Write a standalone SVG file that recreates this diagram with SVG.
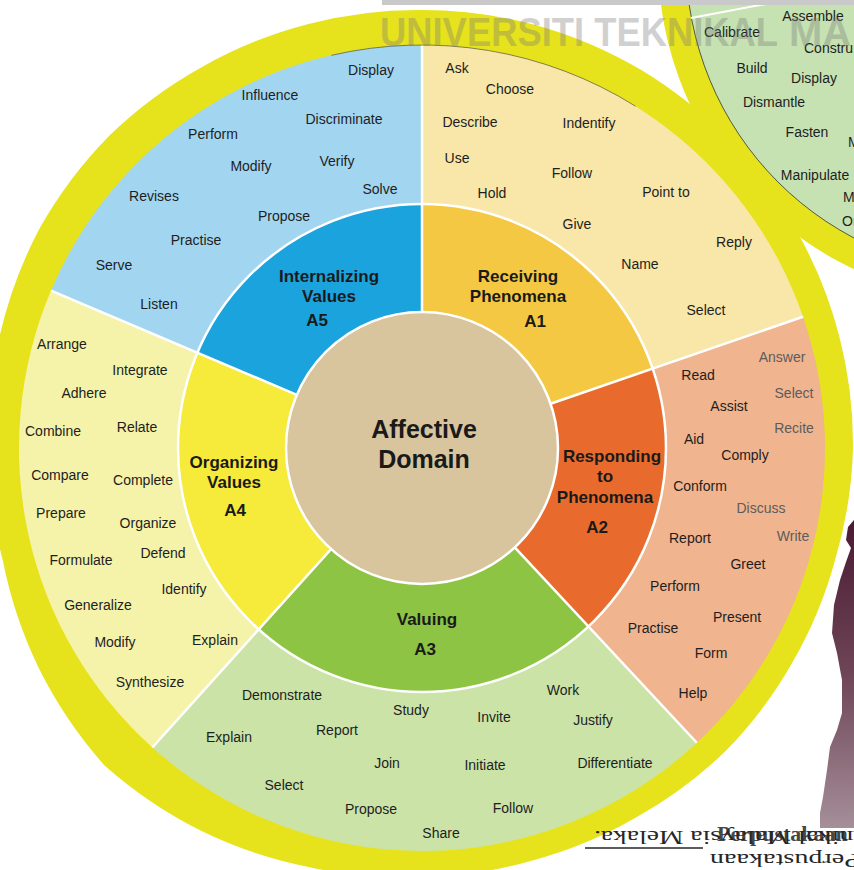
<svg xmlns="http://www.w3.org/2000/svg" width="854" height="870" viewBox="0 0 854 870">
<defs>
<style>
.w{font-family:"Liberation Sans",Arial,Helvetica,sans-serif;font-size:14px;fill:#1e1e1e;text-anchor:middle}
.g{fill:#5c5c5c}
.s{text-anchor:start}
.h{font-family:"Liberation Sans",Arial,Helvetica,sans-serif;font-size:17px;font-weight:bold;fill:#1a1a1a;text-anchor:middle}
.c{font-family:"Liberation Sans",Arial,Helvetica,sans-serif;font-size:25px;font-weight:bold;fill:#1a1a1a;text-anchor:middle}
.sep{stroke:#ffffff;stroke-width:2.5;fill:none}
</style>
<linearGradient id="tower" x1="0" y1="0" x2="0" y2="1">
<stop offset="0" stop-color="#4a1a33"/>
<stop offset="0.5" stop-color="#6e4556"/>
<stop offset="1" stop-color="#a58f99"/>
</linearGradient>
</defs>
<rect x="0" y="0" width="854" height="870" fill="#ffffff"/>

<g id="second-circle">
<circle cx="1000" cy="-40" r="342" fill="#e6e31c"/>
<circle cx="1000" cy="-40" r="314" fill="#c6e2b2" stroke="#4f5b3c" stroke-width="1"/>
<line x1="771" y1="3" x2="691" y2="18" stroke="#ffffff" stroke-width="2"/>
<text class="w" x="813" y="21">Assemble</text>
<text class="w" x="732" y="37">Calibrate</text>
<text class="w s" x="804" y="53">Constru</text>
<text class="w" x="752" y="73">Build</text>
<text class="w" x="814" y="83">Display</text>
<text class="w" x="774" y="107">Dismantle</text>
<text class="w" x="807" y="137">Fasten</text>
<text class="w s" x="848" y="147">M</text>
<text class="w" x="815" y="180">Manipulate</text>
<text class="w s" x="843" y="202">M</text>
<text class="w s" x="842" y="226">Or</text>
</g>

<g id="ring">
<path fill="#e6e31c" d="M422,10 A438,438 0 0 1 535.36,24.92 A437.5,437.5 0 0 1 640.5,69.55 A436,436 0 0 1 729.59,140.41 A434,434 0 0 1 796.99,231.5 A432.5,432.5 0 0 1 839.28,336.19 A431.5,431.5 0 0 1 853,448 A429.5,429.5 0 0 1 835.42,558.78 A428,428 0 0 1 792.66,662 A428.5,428.5 0 0 1 725.35,751.35 A428,428 0 0 1 635.5,817.79 A427,427 0 0 1 532.52,860.45 A428,428 0 0 1 422,877 A431.5,431.5 0 0 1 309.67,867.21 A438,438 0 0 1 201,830.78 A445.5,445.5 0 0 1 104.51,765.49 A445.5,445.5 0 0 1 39.21,669 A438,438 0 0 1 2.79,560.33 A434,434 0 0 1 -12,448 A435.5,435.5 0 0 1 -0.11,334.9 A439,439 0 0 1 40.08,227.5 A441.5,441.5 0 0 1 109.46,135.46 A441,441 0 0 1 202,66.95 A439.5,439.5 0 0 1 308.38,23.96 A438.5,438.5 0 0 1 422,10 Z"/>
</g>

<g id="A1">
<path d="M422 448 L422 45 A403 403 0 0 1 803.04 316.80 Z" fill="#f8e7a8"/>
<path d="M422 448 L422 204 A244 244 0 0 1 652.71 368.56 Z" fill="#f4c843"/>
<text class="w" x="457" y="73">Ask</text>
<text class="w" x="510" y="94">Choose</text>
<text class="w" x="470" y="127">Describe</text>
<text class="w" x="589" y="128">Indentify</text>
<text class="w" x="457" y="163">Use</text>
<text class="w" x="572" y="178">Follow</text>
<text class="w" x="492" y="198">Hold</text>
<text class="w" x="666" y="197">Point to</text>
<text class="w" x="577" y="229">Give</text>
<text class="w" x="734" y="247">Reply</text>
<text class="w" x="640" y="269">Name</text>
<text class="w" x="706" y="315">Select</text>
<text class="h" x="518" y="282">Receiving</text>
<text class="h" x="518" y="302">Phenomena</text>
<text class="h" x="535" y="327">A1</text>
</g>

<g id="A2">
<path d="M422 448 L803.04 316.80 A403 403 0 0 1 696.85 742.73 Z" fill="#f0b48f"/>
<path d="M422 448 L652.71 368.56 A244 244 0 0 1 588.41 626.45 Z" fill="#e86a2c"/>
<text class="w g" x="782" y="362">Answer</text>
<text class="w" x="698" y="380">Read</text>
<text class="w g" x="794" y="398">Select</text>
<text class="w" x="729" y="411">Assist</text>
<text class="w g" x="794" y="433">Recite</text>
<text class="w" x="694" y="444">Aid</text>
<text class="w" x="745" y="460">Comply</text>
<text class="w" x="700" y="491">Conform</text>
<text class="w g" x="761" y="513">Discuss</text>
<text class="w" x="690" y="543">Report</text>
<text class="w g" x="793" y="541">Write</text>
<text class="w" x="748" y="569">Greet</text>
<text class="w" x="675" y="591">Perform</text>
<text class="w" x="737" y="622">Present</text>
<text class="w" x="653" y="633">Practise</text>
<text class="w" x="711" y="658">Form</text>
<text class="w" x="693" y="698">Help</text>
<text class="h" x="612" y="462">Responding</text>
<text class="h" x="605" y="482">to</text>
<text class="h" x="605" y="503">Phenomena</text>
<text class="h" x="597" y="533">A2</text>
</g>

<g id="A3">
<path d="M422 448 L696.85 742.73 A403 403 0 0 1 152.34 747.49 Z" fill="#cbe3a7"/>
<path d="M422 448 L588.41 626.45 A244 244 0 0 1 258.73 629.33 Z" fill="#8dc443"/>
<text class="w" x="282" y="700">Demonstrate</text>
<text class="w" x="411" y="715">Study</text>
<text class="w" x="563" y="695">Work</text>
<text class="w" x="494" y="722">Invite</text>
<text class="w" x="593" y="725">Justify</text>
<text class="w" x="229" y="742">Explain</text>
<text class="w" x="337" y="735">Report</text>
<text class="w" x="387" y="768">Join</text>
<text class="w" x="485" y="770">Initiate</text>
<text class="w" x="615" y="768">Differentiate</text>
<text class="w" x="284" y="790">Select</text>
<text class="w" x="371" y="814">Propose</text>
<text class="w" x="513" y="813">Follow</text>
<text class="w" x="441" y="838">Share</text>
<text class="h" x="427" y="625">Valuing</text>
<text class="h" x="425" y="655">A3</text>
</g>

<g id="A4">
<path d="M422 448 L152.34 747.49 A403 403 0 0 1 51.04 290.54 Z" fill="#f5f3a9"/>
<path d="M422 448 L258.73 629.33 A244 244 0 0 1 197.40 352.66 Z" fill="#f6ea3b"/>
<text class="w" x="62" y="349">Arrange</text>
<text class="w" x="140" y="375">Integrate</text>
<text class="w" x="84" y="398">Adhere</text>
<text class="w" x="53" y="436">Combine</text>
<text class="w" x="137" y="432">Relate</text>
<text class="w" x="60" y="480">Compare</text>
<text class="w" x="143" y="485">Complete</text>
<text class="w" x="61" y="518">Prepare</text>
<text class="w" x="148" y="528">Organize</text>
<text class="w" x="81" y="565">Formulate</text>
<text class="w" x="163" y="558">Defend</text>
<text class="w" x="184" y="594">Identify</text>
<text class="w" x="98" y="610">Generalize</text>
<text class="w" x="115" y="647">Modify</text>
<text class="w" x="215" y="645">Explain</text>
<text class="w" x="150" y="687">Synthesize</text>
<text class="h" x="234" y="468">Organizing</text>
<text class="h" x="234" y="488">Values</text>
<text class="h" x="235" y="516">A4</text>
</g>

<g id="A5">
<path d="M422 448 L51.04 290.54 A403 403 0 0 1 422 45 Z" fill="#a2d5f0"/>
<path d="M422 448 L197.40 352.66 A244 244 0 0 1 422 204 Z" fill="#1aa3dc"/>
<text class="w" x="371" y="75">Display</text>
<text class="w" x="270" y="100">Influence</text>
<text class="w" x="344" y="124">Discriminate</text>
<text class="w" x="213" y="139">Perform</text>
<text class="w" x="251" y="171">Modify</text>
<text class="w" x="337" y="166">Verify</text>
<text class="w" x="380" y="194">Solve</text>
<text class="w" x="154" y="201">Revises</text>
<text class="w" x="284" y="221">Propose</text>
<text class="w" x="196" y="245">Practise</text>
<text class="w" x="114" y="270">Serve</text>
<text class="w" x="159" y="309">Listen</text>
<text class="h" x="329" y="282">Internalizing</text>
<text class="h" x="329" y="302">Values</text>
<text class="h" x="317" y="326">A5</text>
</g>

<g id="separators">
<line class="sep" x1="422" y1="312" x2="422" y2="45"/>
<line class="sep" x1="550.59" y1="403.72" x2="803.04" y2="316.80"/>
<line class="sep" x1="514.75" y1="547.46" x2="696.85" y2="742.73"/>
<line class="sep" x1="331.00" y1="549.07" x2="152.34" y2="747.49"/>
<line class="sep" x1="296.81" y1="394.86" x2="51.04" y2="290.54"/>
<circle class="sep" cx="422" cy="448" r="244"/>
<path d="M331.35 55.33 A403 403 0 0 1 635.56 106.24" fill="none" stroke="#3a3a3a" stroke-width="1" opacity="0.6"/>
</g>

<g id="center">
<circle cx="422" cy="448" r="136" fill="#d8c49d" stroke="#ffffff" stroke-width="2.5"/>
<text class="c" x="424" y="438">Affective</text>
<text class="c" x="424" y="468">Domain</text>
</g>

<rect x="382" y="0" width="472" height="5" fill="#c9c9c9"/>

<g id="watermark" opacity="0.34" font-family="'Liberation Sans',Arial,sans-serif" font-weight="bold" font-size="40" fill="#777777">
<text x="380" y="46" textLength="398" lengthAdjust="spacingAndGlyphs">UNIVERSITI TEKNIKAL</text>
<text x="789" y="46">MA</text>
</g>

<g id="tower-shape">
<polygon points="854,520 848,527 846,540 851,548 846,562 840,580 834,605 832,633 837,653 842,680 842,713 837,730 830,747 827,770 823,797 820,813 820,828 854,828" fill="url(#tower)"/>
</g>

<g id="stamp" font-family="'Liberation Serif','Times New Roman',serif" fill="#262626">
<text transform="translate(594,831) rotate(180)" text-anchor="end" font-size="18" textLength="300" lengthAdjust="spacingAndGlyphs">Teknikal Malaysia Melaka.</text>
<text x="717" y="841" font-size="22" font-weight="bold" opacity="0.85">Perpustakaan</text>
<text transform="translate(860,854) rotate(180)" font-size="18" textLength="150" lengthAdjust="spacingAndGlyphs">Perpustakaan</text>
<line x1="585" y1="848" x2="703" y2="848" stroke="#262626" stroke-width="1.5"/>
</g>
</svg>
